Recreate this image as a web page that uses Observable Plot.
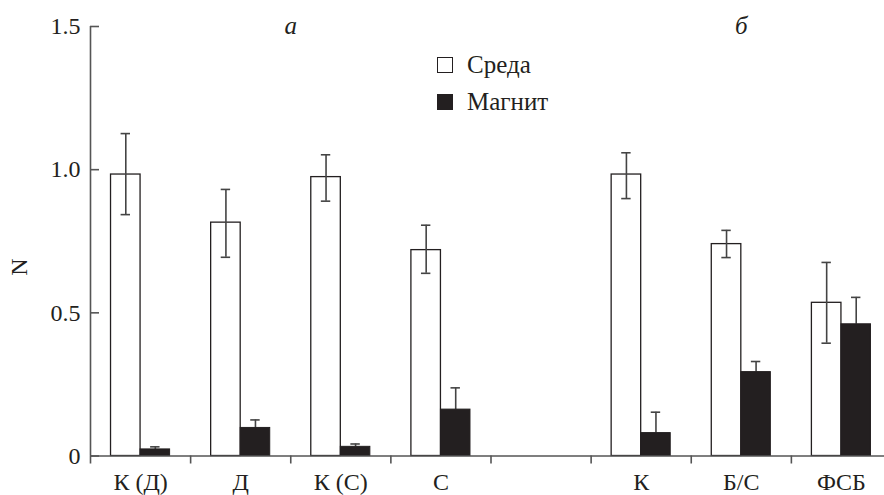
<!DOCTYPE html>
<html>
<head>
<meta charset="utf-8">
<script src="https://cdn.jsdelivr.net/npm/d3@7"></script>
<script src="https://cdn.jsdelivr.net/npm/@observablehq/plot@0.6"></script>
<style>
  html, body { margin: 0; padding: 0; background: #fff; }
  #wrap { position: relative; width: 884px; height: 495px; overflow: hidden; }
  #wrap svg text { font-family: "Liberation Serif", "DejaVu Serif", serif; }
  #legend { position: absolute; left: 437px; top: 46px; font-family: "Liberation Serif", "DejaVu Serif", serif; font-size: 25px; color: #231f20; }
  #legend .row { display: flex; align-items: center; height: 37px; }
  #legend .sw { width: 14px; height: 14px; border: 1.2px solid #231f20; margin-right: 14px; box-sizing: content-box; }
</style>
</head>
<body>
<div id="wrap"></div>
<script>
// ---- data ----
const categories = ["К (Д)", "Д", "К (С)", "С", "", "К", "Б/С", "ФСБ"];
const seriesNames = ["Среда", "Магнит"];
const sreda   = [0.983, 0.815, 0.974, 0.719, null, 0.983, 0.740, 0.535];
const sredaLo = [0.843, 0.694, 0.890, 0.638, null, 0.899, 0.693, 0.394];
const sredaHi = [1.126, 0.931, 1.052, 0.806, null, 1.059, 0.788, 0.676];
const magnit   = [0.023, 0.098, 0.032, 0.162, null, 0.080, 0.293, 0.460];
const magnitHi = [0.032, 0.126, 0.042, 0.238, null, 0.153, 0.330, 0.554];
const yTicks = [0, 0.5, 1.0, 1.5];
const yTickLabels = ["0", "0.5", "1.0", "1.5"];
const panelLabels = ["а", "б"];
const panelGroups = [[0, 3], [5, 7]];

// ---- derived table ----
const rows = categories.map((c, i) => ({i, c, s: sreda[i], sLo: sredaLo[i], sHi: sredaHi[i], m: magnit[i], mHi: magnitHi[i]}))
  .filter(d => d.s != null);
const bw = 0.295;   // bar width in band units
const cap = 0.047;  // half cap width
const boundaries = d3.range(0, categories.length);
const ink = "#231f20";
const axisInk = "#555";
const errInk = "#444";
const font = "'Liberation Serif', 'DejaVu Serif', serif";

const chart = Plot.plot({
  width: 884,
  height: 495,
  marginLeft: 90,
  marginRight: 0,
  marginTop: 26,
  marginBottom: 39.5,
  x: {domain: [0, categories.length], range: [90, 891], axis: null},
  y: {domain: [0, 1.5], axis: null},
  style: {fontFamily: font, background: "white", overflow: "visible"},
  marks: [
    // Магнит error (upper only; drawn under bars)
    Plot.ruleX(rows, {x: d => d.i + 0.5 + bw / 2, y1: d => d.m, y2: d => d.mHi, stroke: errInk, strokeWidth: 1.6}),
    Plot.ruleY(rows, {y: d => d.mHi, x1: d => d.i + 0.5 + bw / 2 - cap, x2: d => d.i + 0.5 + bw / 2 + cap, stroke: errInk, strokeWidth: 1.6}),
    // bars
    Plot.rectY(rows, {x1: d => d.i + 0.5 - bw, x2: d => d.i + 0.5, y: d => d.s, fill: "white", stroke: ink, strokeWidth: 1.3}),
    Plot.rectY(rows, {x1: d => d.i + 0.5, x2: d => d.i + 0.5 + bw, y: d => d.m, fill: ink, stroke: ink, strokeWidth: 1}),
    // Среда error bars
    Plot.ruleX(rows, {x: d => d.i + 0.5 - bw / 2, y1: d => d.sLo, y2: d => d.sHi, stroke: errInk, strokeWidth: 1.6}),
    Plot.ruleY(rows, {y: d => d.sHi, x1: d => d.i + 0.5 - bw / 2 - cap, x2: d => d.i + 0.5 - bw / 2 + cap, stroke: errInk, strokeWidth: 1.6}),
    Plot.ruleY(rows, {y: d => d.sLo, x1: d => d.i + 0.5 - bw / 2 - cap, x2: d => d.i + 0.5 - bw / 2 + cap, stroke: errInk, strokeWidth: 1.6}),
    // axes lines
    Plot.ruleY([0], {x1: 0, x2: categories.length, stroke: axisInk, strokeWidth: 1.6}),
    Plot.ruleX([0], {y1: 0, y2: 1.5, stroke: axisInk, strokeWidth: 1.6}),
    // y ticks (inward, 9px)
    Plot.ruleY(yTicks, {y: d => d, x1: 0, x2: 0, insetRight: -9, stroke: axisInk, strokeWidth: 1.6}),
    // x ticks (downward at band boundaries, 8px)
    Plot.ruleX(boundaries, {x: d => d, y1: 0, y2: 0, insetBottom: -8, stroke: axisInk, strokeWidth: 1.6}),
    // y tick labels
    Plot.text(yTicks, {x: 0, y: d => d, text: (d, i) => yTickLabels[i], dx: -10, textAnchor: "end", fontSize: 24, fontFamily: font, fill: ink}),
    // x labels
    Plot.text(categories, {x: (d, i) => i + 0.5, y: 0, text: d => d, dy: 26, fontSize: 24, fontFamily: font, fill: ink}),
    // y axis label
    Plot.text(["N"], {x: 0, y: 1.5 * 0.44, text: d => d, dx: -71, rotate: -90, fontSize: 24, fontFamily: font, fill: ink}),
    // panel labels
    Plot.text(panelLabels, {x: (d, i) => (panelGroups[i][0] + panelGroups[i][1] + 1) / 2, y: 1.5, text: d => d, dy: -1, fontSize: 25, fontStyle: "italic", fontFamily: font, fill: ink})
  ]
});

const wrap = document.getElementById("wrap");
wrap.appendChild(chart);
const legend = document.createElement("div");
legend.id = "legend";
seriesNames.forEach((name, k) => {
  const row = document.createElement("div");
  row.className = "row";
  const sw = document.createElement("div");
  sw.className = "sw";
  sw.style.background = k === 0 ? "white" : ink;
  const t = document.createElement("span");
  t.textContent = name;
  row.appendChild(sw);
  row.appendChild(t);
  legend.appendChild(row);
});
wrap.appendChild(legend);
</script>
</body>
</html>
